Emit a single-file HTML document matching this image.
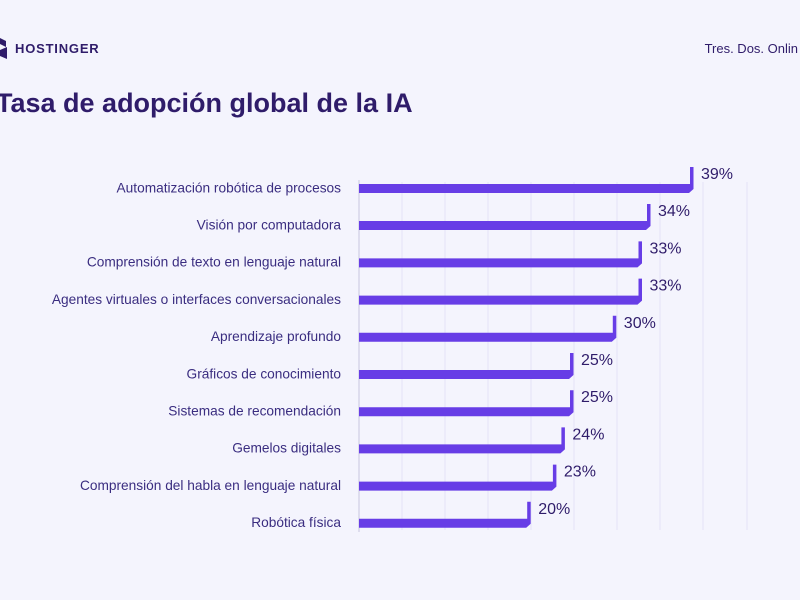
<!DOCTYPE html>
<html><head><meta charset="utf-8"><style>
body{margin:0;background:#f4f4fd;}
svg{display:block;font-family:"Liberation Sans",sans-serif;}
</style></head><body>
<svg width="800" height="600" viewBox="0 0 800 600">
<rect width="800" height="600" fill="#f4f4fd"/>
<g fill="#2f1c6a">
<path d="M0 38 l6 3 v6 l-6 -3z M0 50 l7 -3 v12 l-7 -3z"/>
<text x="15" y="53" font-size="13" font-weight="bold" letter-spacing="0.8">HOSTINGER</text>
<text x="798" y="53" font-size="13" text-anchor="end">Tres. Dos. Onlin</text>
<text x="-4" y="112" font-size="27" font-weight="bold">Tasa de adopción global de la IA</text>
</g>
<g stroke="#e4e2f7" stroke-width="1">
<line x1="402" y1="182" x2="402" y2="530"/><line x1="445" y1="182" x2="445" y2="530"/>
<line x1="488" y1="182" x2="488" y2="530"/><line x1="531" y1="182" x2="531" y2="530"/>
<line x1="574" y1="182" x2="574" y2="530"/><line x1="617" y1="182" x2="617" y2="530"/>
<line x1="660" y1="182" x2="660" y2="530"/><line x1="703" y1="182" x2="703" y2="530"/>
<line x1="747" y1="182" x2="747" y2="530"/>
</g>
<line x1="359" y1="180" x2="359" y2="532" stroke="#c9c6e0" stroke-width="1"/>
<g font-size="13.7" fill="#3a2d80" text-anchor="end">
<text x="341" y="192.5">Automatización robótica de procesos</text>
<text x="341" y="229.5">Visión por computadora</text>
<text x="341" y="266.5">Comprensión de texto en lenguaje natural</text>
<text x="341" y="304">Agentes virtuales o interfaces conversacionales</text>
<text x="341" y="341">Aprendizaje profundo</text>
<text x="341" y="378.5">Gráficos de conocimiento</text>
<text x="341" y="415.5">Sistemas de recomendación</text>
<text x="341" y="452.5">Gemelos digitales</text>
<text x="341" y="490">Comprensión del habla en lenguaje natural</text>
<text x="341" y="527">Robótica física</text>
</g>
<g fill="#673de6">
<path d="M359 184 H690 V167 H693.5 V189 L689 193 H359Z"/>
<path d="M359 221 H647 V204 H650.5 V226 L646 230 H359Z"/>
<path d="M359 258.4 H638.5 V241.4 H642 V263.4 L637.5 267.4 H359Z"/>
<path d="M359 295.6 H638.5 V278.6 H642 V300.6 L637.5 304.6 H359Z"/>
<path d="M359 332.8 H612.8 V315.8 H616.3 V337.8 L611.8 341.8 H359Z"/>
<path d="M359 370 H570 V353 H573.5 V375 L569 379 H359Z"/>
<path d="M359 407.2 H570 V390.2 H573.5 V412.2 L569 416.2 H359Z"/>
<path d="M359 444.4 H561.4 V427.4 H564.9 V449.4 L560.4 453.4 H359Z"/>
<path d="M359 481.6 H552.9 V464.6 H556.4 V486.6 L551.9 490.6 H359Z"/>
<path d="M359 518.8 H527.2 V501.8 H530.7 V523.8 L526.2 527.8 H359Z"/>
</g>
<g font-size="16" fill="#2f1c6a">
<text x="701" y="179">39%</text>
<text x="658" y="216">34%</text>
<text x="649.5" y="253.4">33%</text>
<text x="649.5" y="290.6">33%</text>
<text x="623.8" y="327.8">30%</text>
<text x="581" y="365">25%</text>
<text x="581" y="402.2">25%</text>
<text x="572.4" y="439.4">24%</text>
<text x="563.9" y="476.6">23%</text>
<text x="538.2" y="513.8">20%</text>
</g>
</svg>
</body></html>
